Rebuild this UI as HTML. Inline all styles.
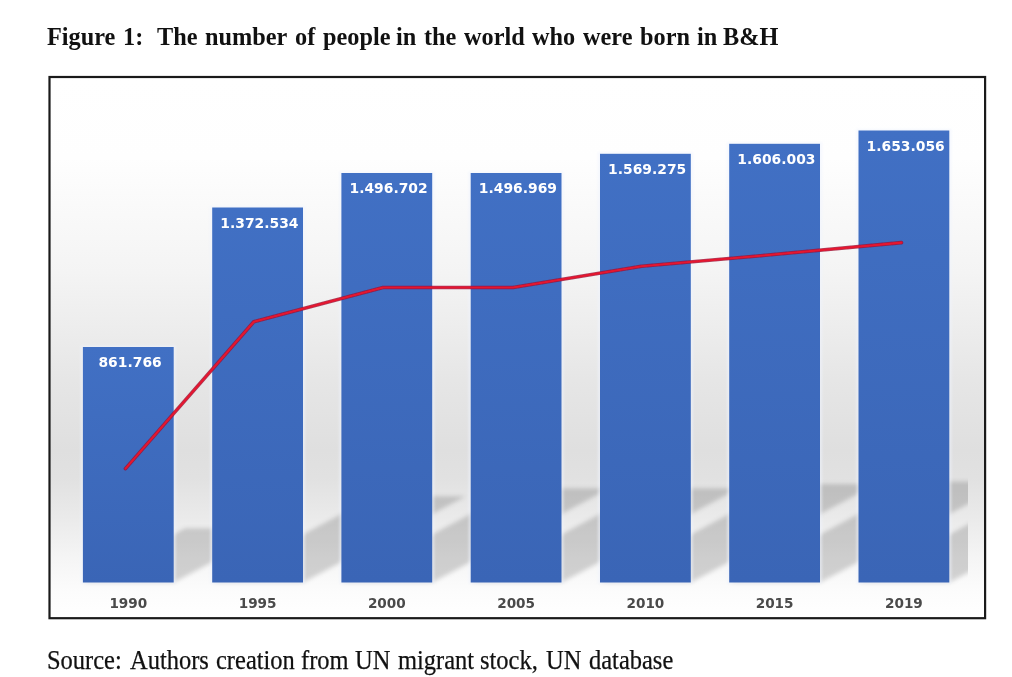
<!DOCTYPE html>
<html>
<head>
<meta charset="utf-8">
<title>Figure 1</title>
<style>
html,body{margin:0;padding:0;background:#fff;}
body{width:1012px;height:677px;position:relative;overflow:hidden;font-family:"Liberation Serif",serif;color:#111;}
#title{position:absolute;left:0;top:20.6px;height:30px;font-size:25.3px;font-weight:bold;line-height:30px;white-space:pre;}
#source{position:absolute;left:0;top:644.8px;height:30px;font-size:27px;line-height:30px;white-space:pre;-webkit-text-stroke:0.25px #111;}
.w{position:absolute;top:0;transform-origin:0 0;}
#chart{position:absolute;left:0;top:0;width:1012px;height:677px;}
.val{font-family:"DejaVu Sans","Liberation Sans",sans-serif;font-weight:bold;font-size:13.9px;fill:#fff;text-anchor:middle;}
.yr{font-family:"DejaVu Sans","Liberation Sans",sans-serif;font-weight:bold;font-size:13.6px;fill:#4a4a4a;text-anchor:middle;}
</style>
</head>
<body>
<svg id="chart" width="1012" height="677" viewBox="0 0 1012 677">
  <defs>
    <linearGradient id="bg" x1="0" y1="0" x2="0" y2="1">
      <stop offset="0" stop-color="#ffffff"/>
      <stop offset="0.15" stop-color="#fefefe"/>
      <stop offset="0.36" stop-color="#f4f4f4"/>
      <stop offset="0.56" stop-color="#e6e6e6"/>
      <stop offset="0.69" stop-color="#dfdfdf"/>
      <stop offset="0.74" stop-color="#e1e1e1"/>
      <stop offset="0.82" stop-color="#ebebeb"/>
      <stop offset="0.89" stop-color="#f5f5f5"/>
      <stop offset="0.95" stop-color="#fcfcfc"/>
      <stop offset="1" stop-color="#ffffff"/>
    </linearGradient>
    <linearGradient id="bar" x1="0" y1="0" x2="0" y2="1">
      <stop offset="0" stop-color="#4170c4"/>
      <stop offset="1" stop-color="#3a65b6"/>
    </linearGradient>
    <filter id="blur" x="-10%" y="-20%" width="120%" height="140%">
      <feGaussianBlur stdDeviation="1.9"/>
    </filter>
    <filter id="soft" x="-5%" y="-5%" width="110%" height="110%"><feGaussianBlur stdDeviation="0.9"/></filter>
    <filter id="lblur" x="-5%" y="-5%" width="110%" height="110%"><feGaussianBlur stdDeviation="0.5"/></filter>
    <clipPath id="plot"><rect x="50" y="78" width="918" height="520"/></clipPath>
  </defs>
  <rect x="49.5" y="77" width="935.6" height="541.2" fill="url(#bg)" stroke="#1a1a1a" stroke-width="2.2"/>
  <g clip-path="url(#plot)">
    <g filter="url(#blur)" fill="#000" fill-opacity="0.16" id="shadows">
      <polygon points="82.9,582.5 173.7,582.5 275.9,528.3 185.1,528.3"/>
      <polygon points="212.2,582.5 303.0,582.5 465.8,496.2 375.0,496.2"/>
      <polygon points="341.4,582.5 432.2,582.5 609.9,488.3 519.1,488.3"/>
      <polygon points="470.7,582.5 561.5,582.5 739.2,488.3 648.4,488.3"/>
      <polygon points="600.0,582.5 690.8,582.5 876.9,483.9 786.1,483.9"/>
      <polygon points="729.2,582.5 820.0,582.5 1010.4,481.6 919.6,481.6"/>
      <polygon points="858.5,582.5 949.3,582.5 1145.5,478.5 1054.7,478.5"/>
    </g>
  </g>
  <g id="bars">
    <rect x="80.7" y="345.4" width="95.2" height="238.3" fill="#eef3fe" fill-opacity="0.55" filter="url(#soft)"/>
    <rect x="82.9" y="347" width="90.8" height="235.5" fill="url(#bar)"/>
    <rect x="210.0" y="205.9" width="95.2" height="377.8" fill="#eef3fe" fill-opacity="0.55" filter="url(#soft)"/>
    <rect x="212.2" y="207.5" width="90.8" height="375.0" fill="url(#bar)"/>
    <rect x="339.2" y="171.4" width="95.2" height="412.3" fill="#eef3fe" fill-opacity="0.55" filter="url(#soft)"/>
    <rect x="341.4" y="173" width="90.8" height="409.5" fill="url(#bar)"/>
    <rect x="468.5" y="171.4" width="95.2" height="412.3" fill="#eef3fe" fill-opacity="0.55" filter="url(#soft)"/>
    <rect x="470.7" y="173" width="90.8" height="409.5" fill="url(#bar)"/>
    <rect x="597.8" y="152.2" width="95.2" height="431.5" fill="#eef3fe" fill-opacity="0.55" filter="url(#soft)"/>
    <rect x="600.0" y="153.8" width="90.8" height="428.7" fill="url(#bar)"/>
    <rect x="727.0" y="142.2" width="95.2" height="441.5" fill="#eef3fe" fill-opacity="0.55" filter="url(#soft)"/>
    <rect x="729.2" y="143.8" width="90.8" height="438.7" fill="url(#bar)"/>
    <rect x="856.3" y="128.9" width="95.2" height="454.8" fill="#eef3fe" fill-opacity="0.55" filter="url(#soft)"/>
    <rect x="858.5" y="130.5" width="90.8" height="452.0" fill="url(#bar)"/>
  </g>
  <g id="line" fill="none" stroke-linejoin="round" stroke-linecap="round" filter="url(#lblur)">
    <polyline stroke="#9a1232" stroke-opacity="0.8" stroke-width="3.6" points="125.5,468.6 253.8,321.8 383,287.5 513,287.5 641.5,266.3 770.8,254.8 901.5,242.6"/>
    <polyline stroke="#e6142f" stroke-width="2.1" points="125.5,468.6 253.8,321.8 383,287.5 513,287.5 641.5,266.3 770.8,254.8 901.5,242.6"/>
  </g>
  <g id="labels">
    <text class="val" x="130.1" y="367.0">861.766</text>
    <text class="yr" x="128.3" y="607.8">1990</text>
    <text class="val" x="259.4" y="227.5">1.372.534</text>
    <text class="yr" x="257.6" y="607.8">1995</text>
    <text class="val" x="388.6" y="193.0">1.496.702</text>
    <text class="yr" x="386.8" y="607.8">2000</text>
    <text class="val" x="517.9" y="193.0">1.496.969</text>
    <text class="yr" x="516.1" y="607.8">2005</text>
    <text class="val" x="647.2" y="173.8">1.569.275</text>
    <text class="yr" x="645.4" y="607.8">2010</text>
    <text class="val" x="776.4" y="163.8">1.606.003</text>
    <text class="yr" x="774.6" y="607.8">2015</text>
    <text class="val" x="905.7" y="150.5">1.653.056</text>
    <text class="yr" x="903.9" y="607.8">2019</text>
  </g>
</svg>
<div id="title"><span class="w" style="left:47.4px;transform:scaleX(0.9601)">Figure</span> <span class="w" style="left:123.4px;transform:scaleX(0.9601)">1:</span>  <span class="w" style="left:157.0px;transform:scaleX(0.9601)">The</span> <span class="w" style="left:204.8px;transform:scaleX(0.9601)">number</span> <span class="w" style="left:295.4px;transform:scaleX(0.9601)">of</span> <span class="w" style="left:322.8px;transform:scaleX(0.9601)">people</span> <span class="w" style="left:396.4px;transform:scaleX(0.9601)">in</span> <span class="w" style="left:424.0px;transform:scaleX(0.9601)">the</span> <span class="w" style="left:463.9px;transform:scaleX(0.9601)">world</span> <span class="w" style="left:531.9px;transform:scaleX(0.9601)">who</span> <span class="w" style="left:582.6px;transform:scaleX(0.9601)">were</span> <span class="w" style="left:640.0px;transform:scaleX(0.9601)">born</span> <span class="w" style="left:696.7px;transform:scaleX(0.9601)">in</span> <span class="w" style="left:723.4px;transform:scaleX(0.9601)">B&amp;H</span></div>
<div id="source"><span class="w" style="left:46.8px;transform:scaleX(0.9066)">Source:</span> <span class="w" style="left:130.0px;transform:scaleX(0.9066)">Authors</span> <span class="w" style="left:215.7px;transform:scaleX(0.9066)">creation</span> <span class="w" style="left:300.5px;transform:scaleX(0.9066)">from</span> <span class="w" style="left:355.2px;transform:scaleX(0.9066)">UN</span> <span class="w" style="left:397.8px;transform:scaleX(0.9066)">migrant</span> <span class="w" style="left:479.9px;transform:scaleX(0.9066)">stock,</span> <span class="w" style="left:545.8px;transform:scaleX(0.9066)">UN</span> <span class="w" style="left:589.2px;transform:scaleX(0.9066)">database</span></div>
</body>
</html>
